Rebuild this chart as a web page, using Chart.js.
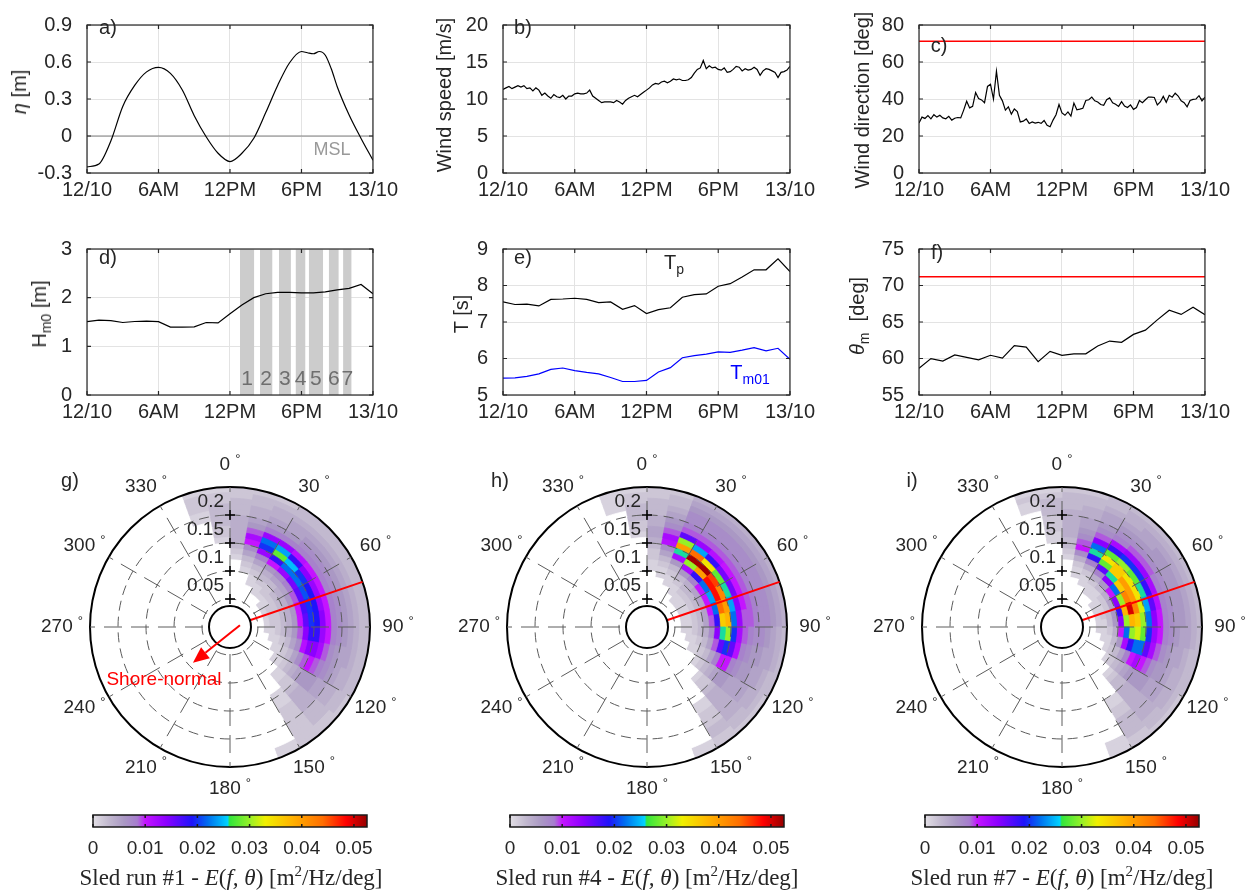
<!DOCTYPE html>
<html>
<head>
<meta charset="utf-8">
<script src="https://cdn.jsdelivr.net/npm/chart.js@4.4.1/dist/chart.umd.min.js"></script>
<style>
  body { margin: 0; background: #fff; }
  #fig { position: relative; width: 1254px; height: 895px; overflow: hidden;
         font-family: "Liberation Sans", Arial, sans-serif; color: #262626; }
  #plots canvas { position: absolute; }
  .t { position: absolute; white-space: nowrap; transform: translate(-50%, -50%); font-size: 20px; line-height: 1; }
  .yt { position: absolute; white-space: nowrap; transform: translate(-50%, -50%) rotate(-90deg); font-size: 20px; line-height: 1; }
  .cb { font-family: "Liberation Serif", "DejaVu Serif", serif; font-size: 23px; }
  sub { font-size: 70%; vertical-align: -0.35em; line-height: 0; }
  sup { font-size: 65%; vertical-align: 0.55em; line-height: 0; }
</style>
</head>
<body>
<div id="fig">
  <div id="plots"></div>

  <div class="t" style="left:108px;top:27px">a)</div>
  <div class="t" style="left:523px;top:27px">b)</div>
  <div class="t" style="left:939px;top:45px">c)</div>
  <div class="t" style="left:108px;top:257px">d)</div>
  <div class="t" style="left:523px;top:257px">e)</div>
  <div class="t" style="left:937px;top:252px">f)</div>
  <div class="t" style="left:70px;top:480px">g)</div>
  <div class="t" style="left:500px;top:480px">h)</div>
  <div class="t" style="left:912px;top:480px">i)</div>

  <div class="yt" style="left:19px;top:92px"><i>η</i> [m]</div>
  <div class="yt" style="left:444px;top:95px">Wind speed [m/s]</div>
  <div class="yt" style="left:862px;top:100px">Wind direction [deg]</div>
  <div class="yt" style="left:39px;top:314px">H<sub>m0</sub> [m]</div>
  <div class="yt" style="left:461px;top:314px">T [s]</div>
  <div class="yt" style="left:857px;top:316px"><i>θ</i><sub>m</sub> &nbsp;[deg]</div>

  <div class="t" style="left:332px;top:149px;font-size:18px;color:#999">MSL</div>
  <div class="t" style="left:674px;top:262px">T<sub>p</sub></div>
  <div class="t" style="left:750px;top:372px;color:#0000ff">T<sub>m01</sub></div>
  <div class="t" style="left:164px;top:678px;color:#ff0000;font-size:19px">Shore-normal</div>

  <div class="t cb" style="left:231px;top:877px">Sled run #1 - <i>E</i>(<i>f, θ</i>) [m<sup>2</sup>/Hz/deg]</div>
  <div class="t cb" style="left:647px;top:877px">Sled run #4 - <i>E</i>(<i>f, θ</i>) [m<sup>2</sup>/Hz/deg]</div>
  <div class="t cb" style="left:1062px;top:877px">Sled run #7 - <i>E</i>(<i>f, θ</i>) [m<sup>2</sup>/Hz/deg]</div>
</div>

<script>
// ---------- data ----------
const timeLabels = ['12/10', '6AM', '12PM', '6PM', '13/10'];

// a) water level
const tideHours = [0, 1, 2, 3, 4, 5, 6, 7, 8, 9, 10, 11, 12, 13, 14, 15, 16, 17, 18, 18.5, 19, 19.5, 20, 20.5, 21, 22, 23, 24];
const tideEta = [-0.25, -0.227, -0.04, 0.24, 0.41, 0.52, 0.557, 0.508, 0.373, 0.165, -0.006, -0.14, -0.207, -0.14, -0.018,
  0.19, 0.41, 0.594, 0.685, 0.675, 0.667, 0.685, 0.655, 0.545, 0.40, 0.17, -0.02, -0.197];
const mslLevel = 0;

// b) wind speed, c) wind direction (15 min samples)
const windStep = 0.25;
const windSpeed = [11.3, 11.5, 11.7, 11.4, 11.6, 11.8, 11.6, 11.8, 11.4, 11.5, 11.1, 11.5, 11.2, 10.5, 10.8, 10.4, 10.1, 10.6,
  10.3, 10.2, 10.5, 10.0, 10.4, 10.4, 10.7, 10.8, 10.7, 10.7, 10.8, 11.2, 10.4, 10.1, 9.8, 9.5, 9.6, 9.6, 9.6, 9.5, 9.8, 9.6,
  9.3, 9.8, 10.1, 10.3, 10.5, 10.3, 10.6, 10.9, 11.2, 11.5, 11.9, 12.1, 12.0, 12.3, 12.4, 12.2, 12.4, 12.7, 12.6, 12.7, 12.5,
  12.5, 12.6, 12.9, 13.5, 14.0, 14.2, 15.2, 14.1, 14.5, 14.2, 14.3, 14.0, 13.9, 14.2, 13.6, 13.7, 14.0, 14.4, 14.3, 13.8,
  14.1, 13.9, 14.0, 14.3, 14.0, 13.2, 13.8, 14.1, 14.0, 13.8, 13.6, 12.9, 13.6, 13.7, 13.9, 14.4];
const windDir = [27.0, 30.2, 29.5, 31.0, 29.3, 31.5, 30.2, 31.2, 29.8, 29.3, 30.6, 28.6, 29.6, 30.0, 29.8, 34.0, 38.8, 35.2,
  36.0, 43.5, 40.2, 39.5, 38.0, 46.8, 48.0, 40.0, 55.0, 42.0, 39.0, 34.0, 35.8, 31.8, 34.6, 33.2, 27.6, 28.0, 29.2, 26.8,
  27.6, 27.0, 27.4, 26.8, 28.4, 25.8, 25.0, 28.6, 31.5, 37.0, 32.5, 31.2, 33.0, 30.8, 37.8, 34.2, 34.5, 35.0, 39.2, 39.6,
  41.0, 39.0, 38.4, 37.0, 36.6, 39.6, 40.6, 38.0, 37.2, 36.0, 38.6, 36.2, 35.4, 36.8, 34.4, 35.4, 39.2, 38.0, 39.6, 41.0,
  41.0, 40.8, 36.8, 38.4, 41.4, 38.2, 42.0, 41.0, 43.2, 41.6, 39.0, 38.0, 35.8, 39.2, 39.8, 40.0, 41.8, 39.0, 41.0];
const shoreNormal = 71.2;

// d), e), f) hourly wave parameters
const waveHours = [0, 1, 2, 3, 4, 5, 6, 7, 8, 9, 10, 11, 12, 13, 14, 15, 16, 17, 18, 19, 20, 21, 22, 23, 24];
const hm0 = [1.506, 1.54, 1.53, 1.49, 1.51, 1.52, 1.506, 1.394, 1.394, 1.40, 1.49, 1.48, 1.668, 1.85, 2.0, 2.08, 2.11, 2.11,
  2.10, 2.10, 2.12, 2.16, 2.19, 2.27, 2.08];
const tPeak = [7.55, 7.48, 7.49, 7.44, 7.62, 7.63, 7.65, 7.62, 7.53, 7.55, 7.35, 7.45, 7.23, 7.34, 7.39, 7.68, 7.75, 7.77,
  7.98, 8.05, 8.23, 8.43, 8.43, 8.73, 8.38];
const tM01 = [5.46, 5.47, 5.51, 5.58, 5.70, 5.74, 5.67, 5.62, 5.58, 5.48, 5.37, 5.37, 5.40, 5.63, 5.75, 6.02, 6.08, 6.12,
  6.18, 6.17, 6.23, 6.30, 6.21, 6.28, 5.98];
const thetaM = [58.65, 59.98, 59.65, 60.48, 60.15, 59.81, 60.44, 60.06, 61.76, 61.56, 59.56, 60.98, 60.44, 60.64, 60.64,
  61.72, 62.39, 62.22, 63.30, 63.88, 65.29, 66.62, 66.04, 67.03, 66.0];

// sled runs (hours)
const runLabels = ['1', '2', '3', '4', '5', '6', '7'];
const runStart = [12.84, 14.51, 16.11, 17.50, 18.61, 20.29, 21.49];
const runEnd = [14.04, 15.57, 17.11, 18.34, 19.82, 21.13, 22.21];
const hm0Top = 3;

// directional spectra E(f,theta), units 1e-3 m^2/Hz/deg
// rows: direction bins starting at dirStart (10 deg wide), cols: frequency bins between freqEdges
const dirStart = [-20, -10, 0, 10, 20, 30, 40, 50, 60, 70, 80, 90, 100, 110, 120, 130, 140, 150];
const freqEdges = [0.06, 0.07, 0.08, 0.09, 0.10, 0.11, 0.12, 0.13, 0.14, 0.15, 0.16, 0.17, 0.18, 0.19, 0.20, 0.21, 0.22, 0.23, 0.24, 0.25];
const specRun1 = [
  [0, 0, 0, 0, 0, 0, 0, 0, 0, 0, 0, 0, 0, 1, 1, 2, 2, 2, 1],
  [0, 0, 0, 0, 0, 0, 0, 0, 0, 1, 2, 2, 3, 3, 3, 3, 2, 2, 1],
  [0, 0, 0, 0, 0, 0, 1, 2, 3, 4, 4, 4, 4, 4, 3, 3, 3, 2, 2],
  [0, 0, 0, 0, 1, 2, 3, 5, 7, 10, 12, 9, 6, 5, 4, 4, 3, 3, 2],
  [0, 0, 1, 1, 2, 3, 5, 8, 13, 20, 22, 13, 8, 6, 5, 4, 4, 3, 2],
  [0, 1, 1, 2, 3, 4, 6, 10, 18, 28, 24, 13, 8, 6, 5, 5, 4, 3, 3],
  [0, 1, 2, 2, 3, 5, 7, 13, 22, 25, 18, 11, 8, 7, 6, 5, 4, 3, 3],
  [1, 1, 2, 3, 4, 5, 8, 15, 22, 20, 14, 10, 8, 7, 6, 5, 4, 3, 3],
  [1, 2, 2, 3, 4, 6, 9, 16, 21, 19, 13, 10, 8, 7, 6, 5, 4, 3, 3],
  [1, 2, 2, 3, 4, 6, 10, 17, 20, 19, 13, 10, 8, 7, 6, 5, 4, 3, 3],
  [1, 2, 2, 3, 4, 6, 10, 16, 20, 19, 14, 10, 8, 7, 6, 5, 4, 3, 3],
  [1, 1, 2, 3, 4, 6, 9, 14, 18, 18, 13, 10, 8, 7, 6, 5, 4, 3, 3],
  [0, 1, 1, 2, 3, 5, 7, 11, 14, 14, 12, 9, 7, 6, 5, 5, 4, 3, 3],
  [0, 0, 1, 1, 2, 3, 5, 7, 9, 10, 9, 8, 7, 6, 5, 4, 4, 3, 3],
  [0, 0, 0, 1, 1, 2, 3, 4, 5, 6, 6, 6, 5, 5, 4, 4, 3, 3, 2],
  [0, 0, 0, 0, 0, 1, 1, 2, 2, 3, 4, 4, 4, 4, 3, 3, 3, 2, 2],
  [0, 0, 0, 0, 0, 0, 0, 0, 1, 1, 1, 2, 2, 2, 2, 2, 2, 2, 2],
  [0, 0, 0, 0, 0, 0, 0, 0, 0, 0, 0, 0, 0, 0, 0, 0, 0, 1, 1]
];
const specRun4 = [
  [0, 0, 0, 0, 0, 0, 0, 0, 0, 0, 0, 0, 0, 0, 0, 1, 1, 1, 1],
  [0, 0, 0, 0, 0, 0, 0, 0, 0, 0, 1, 2, 2, 3, 3, 3, 2, 2, 1],
  [0, 0, 0, 0, 1, 1, 2, 2, 3, 4, 5, 5, 4, 4, 3, 3, 3, 2, 2],
  [0, 0, 0, 1, 1, 2, 3, 5, 7, 11, 12, 9, 7, 6, 5, 4, 3, 3, 2],
  [0, 0, 1, 1, 2, 3, 6, 12, 26, 40, 30, 16, 9, 8, 7, 7, 6, 5, 4],
  [0, 1, 1, 2, 3, 6, 12, 30, 52, 44, 24, 13, 9, 8, 7, 7, 6, 5, 4],
  [1, 1, 2, 3, 4, 8, 18, 40, 52, 34, 18, 11, 9, 8, 7, 7, 6, 5, 4],
  [1, 1, 2, 3, 5, 10, 22, 48, 46, 28, 15, 10, 9, 8, 7, 7, 6, 5, 4],
  [1, 1, 2, 3, 5, 10, 24, 48, 42, 26, 15, 10, 9, 8, 7, 7, 6, 5, 4],
  [1, 1, 2, 3, 5, 10, 22, 44, 40, 24, 14, 10, 9, 8, 7, 7, 6, 5, 4],
  [1, 1, 2, 3, 5, 9, 18, 36, 38, 22, 13, 9, 9, 8, 7, 7, 6, 5, 4],
  [1, 1, 2, 3, 4, 7, 14, 26, 30, 20, 12, 9, 8, 7, 7, 6, 5, 4, 3],
  [0, 1, 1, 2, 3, 5, 9, 16, 20, 16, 11, 8, 7, 6, 6, 5, 5, 4, 3],
  [0, 0, 1, 1, 2, 3, 5, 8, 10, 10, 8, 7, 6, 6, 5, 5, 4, 3, 3],
  [0, 0, 0, 0, 1, 2, 3, 4, 5, 6, 6, 5, 5, 5, 5, 4, 4, 3, 2],
  [0, 0, 0, 0, 0, 0, 1, 2, 2, 3, 4, 4, 4, 4, 4, 4, 3, 3, 2],
  [0, 0, 0, 0, 0, 0, 0, 0, 0, 0, 1, 1, 2, 2, 2, 3, 3, 2, 2],
  [0, 0, 0, 0, 0, 0, 0, 0, 0, 0, 0, 0, 0, 0, 0, 0, 0, 1, 1]
];
const specRun7 = [
  [0, 0, 0, 0, 0, 0, 0, 0, 0, 0, 0, 0, 0, 0, 0, 1, 1, 2, 1],
  [0, 0, 0, 0, 0, 0, 0, 0, 0, 1, 1, 2, 2, 2, 3, 3, 3, 2, 1],
  [0, 0, 0, 0, 0, 0, 1, 2, 3, 3, 4, 4, 4, 4, 4, 3, 3, 3, 2],
  [0, 0, 0, 1, 1, 2, 4, 7, 10, 9, 7, 6, 5, 5, 4, 4, 3, 3, 2],
  [0, 0, 1, 1, 2, 4, 8, 18, 26, 22, 14, 9, 7, 6, 5, 5, 4, 3, 3],
  [0, 1, 1, 2, 4, 8, 16, 28, 34, 28, 18, 12, 8, 7, 6, 5, 4, 4, 3],
  [0, 1, 1, 3, 6, 14, 26, 36, 36, 30, 20, 13, 9, 7, 6, 5, 5, 4, 3],
  [1, 1, 2, 4, 10, 22, 36, 40, 34, 28, 20, 13, 9, 7, 6, 6, 5, 4, 3],
  [1, 1, 2, 5, 14, 30, 42, 40, 34, 26, 18, 12, 8, 7, 6, 6, 5, 4, 3],
  [1, 2, 3, 6, 18, 38, 50, 42, 32, 24, 16, 11, 8, 7, 6, 6, 5, 4, 3],
  [1, 1, 3, 6, 14, 30, 38, 36, 30, 22, 14, 10, 8, 7, 6, 6, 5, 4, 3],
  [1, 1, 2, 4, 10, 22, 30, 32, 28, 20, 13, 10, 8, 7, 6, 5, 5, 4, 3],
  [0, 1, 1, 3, 6, 12, 18, 22, 22, 16, 12, 9, 7, 6, 5, 5, 4, 3, 3],
  [0, 0, 1, 2, 3, 5, 8, 10, 12, 10, 9, 7, 6, 6, 5, 4, 4, 3, 3],
  [0, 0, 0, 1, 2, 3, 4, 5, 6, 6, 6, 6, 5, 5, 5, 4, 4, 3, 2],
  [0, 0, 0, 0, 0, 1, 2, 3, 3, 4, 4, 4, 4, 4, 4, 4, 3, 3, 2],
  [0, 0, 0, 0, 0, 0, 0, 0, 0, 1, 1, 2, 2, 3, 3, 3, 3, 2, 2],
  [0, 0, 0, 0, 0, 0, 0, 0, 0, 0, 0, 0, 0, 0, 0, 0, 1, 1, 1]
];
const rMax = 0.25;
const rTicks = [0.05, 0.1, 0.15, 0.2];
const innerCircle = 0.0375;
const angleTicks = [0, 30, 60, 90, 120, 150, 180, 210, 240, 270, 300, 330];
const cbMax = 0.0525;
// shore-normal arrow in g): tail (radius, bearing) and tip (radius, bearing)
const arrowTail = [0.018, 80];
const arrowTip = [0.092, 226];

// colormap (value in 1e-3 units -> rgb)
const cmapVals = [0, 3, 6, 8.5, 10, 14, 19, 22, 25.8, 26.2, 30, 33, 38, 44, 48.5, 52.5];
const cmapRGB = [[226, 223, 229], [194, 185, 207], [170, 152, 196], [166, 124, 206], [196, 20, 255], [140, 0, 255],
  [30, 20, 250], [0, 110, 240], [0, 210, 255], [50, 230, 60], [150, 240, 40], [240, 240, 0], [255, 180, 0],
  [255, 110, 0], [255, 0, 0], [150, 0, 0]];

// ---------- helpers ----------
const FONT = '"Liberation Sans", Arial, sans-serif';
Chart.defaults.font.family = FONT;
Chart.defaults.font.size = 20;
Chart.defaults.color = '#262626';

function rgb(c) { return 'rgb(' + c.join(',') + ')'; }
function cmap(v) {
  if (v <= cmapVals[0]) return rgb(cmapRGB[0]);
  for (let i = 1; i < cmapVals.length; i++) {
    if (v <= cmapVals[i]) {
      const f = (v - cmapVals[i - 1]) / (cmapVals[i] - cmapVals[i - 1]);
      const a = cmapRGB[i - 1], b = cmapRGB[i];
      return rgb(a.map((x, k) => Math.round(x + f * (b[k] - x))));
    }
  }
  return rgb(cmapRGB[cmapRGB.length - 1]);
}

function addCanvas(left, top, w, h) {
  const c = document.createElement('canvas');
  c.width = w; c.height = h;
  c.style.left = left + 'px'; c.style.top = top + 'px';
  document.getElementById('plots').appendChild(c);
  return c;
}

const frame = {
  id: 'frame',
  afterDraw(chart, args, opts) {
    const { ctx, chartArea: a } = chart;
    const tl = opts.tick;
    ctx.save();
    ctx.strokeStyle = opts.color;
    ctx.lineWidth = opts.width;
    ctx.strokeRect(a.left, a.top, a.right - a.left, a.bottom - a.top);
    ctx.beginPath();
    const sx = chart.scales.x;
    sx.ticks.forEach(t => {
      const p = sx.getPixelForValue(t.value);
      ctx.moveTo(p, a.bottom); ctx.lineTo(p, a.bottom - tl);
      ctx.moveTo(p, a.top); ctx.lineTo(p, a.top + tl);
    });
    const sy = chart.scales.y;
    if (sy && sy.options.display !== false) {
      sy.ticks.forEach(t => {
        const p = sy.getPixelForValue(t.value);
        ctx.moveTo(a.left, p); ctx.lineTo(a.left + tl, p);
        ctx.moveTo(a.right, p); ctx.lineTo(a.right - tl, p);
      });
    }
    ctx.stroke();
    ctx.restore();
  }
};

const runNumbers = {
  id: 'runNumbers',
  afterDatasetsDraw(chart) {
    const { ctx, chartArea: a } = chart;
    const sx = chart.scales.x;
    ctx.save();
    ctx.font = '21px ' + FONT;
    ctx.fillStyle = '#6e6e6e';
    ctx.textAlign = 'center';
    ctx.textBaseline = 'alphabetic';
    runLabels.forEach((lab, i) => {
      ctx.fillText(lab, sx.getPixelForValue((runStart[i] + runEnd[i]) / 2), a.bottom - 10);
    });
    ctx.restore();
  }
};

function pts(xs, ys) { return ys.map((y, i) => ({ x: xs[i], y })); }
function stepPts(step, ys) { return ys.map((y, i) => ({ x: i * step, y })); }
function hline(level, color, width) {
  return { data: [{ x: 0, y: level }, { x: 24, y: level }], borderColor: color, borderWidth: width, pointRadius: 0 };
}

function lineChart(box, y, datasets, extra) {
  const c = addCanvas(box.L - 80, box.T - 12, box.R - box.L + 110, box.B - box.T + 47);
  const grid = { color: '#e3e3e3', drawTicks: false };
  return new Chart(c, {
    type: 'line',
    data: { datasets },
    options: {
      responsive: false, animation: false, events: [],
      layout: { padding: { left: 0, top: 12, right: 30, bottom: 0 } },
      plugins: { legend: { display: false }, tooltip: { enabled: false },
        frame: { color: '#262626', width: 1.2, tick: 4 } },
      elements: { point: { radius: 0 }, line: { borderWidth: 1.2, tension: 0 } },
      scales: {
        x: { type: 'linear', min: 0, max: 24,
          ticks: { stepSize: 6, padding: 5, maxRotation: 0, autoSkip: false,
            callback: v => timeLabels[Math.round(v / 6)] },
          grid, border: { display: false }, afterFit: s => { s.height = 35; } },
        y: { type: 'linear', min: y.min, max: y.max,
          ticks: { stepSize: y.step, padding: 15, callback: v => String(+v.toFixed(2)) },
          grid, border: { display: false }, afterFit: s => { s.width = 80; } }
      }
    },
    plugins: [frame].concat(extra || [])
  });
}

// ---------- line panels ----------
const boxes = {
  a: { L: 87, R: 373, T: 10, B: 173 }, b: { L: 503, R: 790, T: 10, B: 173 }, c: { L: 919, R: 1205, T: 10, B: 173 },
  d: { L: 87, R: 373, T: 234, B: 395 }, e: { L: 503, R: 790, T: 234, B: 395 }, f: { L: 919, R: 1205, T: 234, B: 395 }
};

lineChart(boxes.a, { min: -0.3, max: 0.9, step: 0.3 }, [
  { data: pts(tideHours, tideEta), borderColor: '#000', cubicInterpolationMode: 'monotone' },
  hline(mslLevel, '#808080', 1)
]);
lineChart(boxes.b, { min: 0, max: 20, step: 5 }, [
  { data: stepPts(windStep, windSpeed), borderColor: '#000' }
]);
lineChart(boxes.c, { min: 0, max: 80, step: 20 }, [
  { data: stepPts(windStep, windDir), borderColor: '#000' },
  hline(shoreNormal, '#ff0000', 1.5)
]);
lineChart(boxes.d, { min: 0, max: 3, step: 1 }, [
  { data: pts(waveHours, hm0), borderColor: '#000' }
].concat(runStart.map((s, i) => ({
  data: [{ x: s, y: hm0Top }, { x: runEnd[i], y: hm0Top }],
  fill: 'origin', backgroundColor: '#cccccc', borderWidth: 0, pointRadius: 0
}))), [runNumbers]);
lineChart(boxes.e, { min: 5, max: 9, step: 1 }, [
  { data: pts(waveHours, tPeak), borderColor: '#000' },
  { data: pts(waveHours, tM01), borderColor: '#0000ff' }
]);
lineChart(boxes.f, { min: 55, max: 75, step: 5 }, [
  { data: pts(waveHours, thetaM), borderColor: '#000' },
  hline(shoreNormal, '#ff0000', 1.5)
]);

// ---------- polar spectra ----------
const isOuter = c => c.tick && c.tick.value >= rMax - 1e-9;

const polarDecor = {
  id: 'polarDecor',
  afterDraw(chart, args, opts) {
    const s = chart.scales.r, ctx = chart.ctx;
    const cx = s.xCenter, cy = s.yCenter;
    const R = s.getDistanceFromCenterForValue(rMax);
    const ri = s.getDistanceFromCenterForValue(innerCircle);
    const pos = (r, deg) => {
      const d = s.getDistanceFromCenterForValue(r), t = deg * Math.PI / 180;
      return { x: cx + d * Math.sin(t), y: cy - d * Math.cos(t) };
    };
    ctx.save();
    const p0 = pos(innerCircle, shoreNormal), p1 = pos(rMax, shoreNormal);
    ctx.strokeStyle = '#ff0000'; ctx.lineWidth = 2;
    ctx.beginPath(); ctx.moveTo(p0.x, p0.y); ctx.lineTo(p1.x, p1.y); ctx.stroke();

    ctx.beginPath(); ctx.arc(cx, cy, ri, 0, 2 * Math.PI);
    ctx.fillStyle = '#fff'; ctx.fill();
    ctx.lineWidth = 2; ctx.strokeStyle = '#000'; ctx.stroke();

    // radial ticks on the north axis
    ctx.lineWidth = 1.5;
    ctx.font = '19px ' + FONT; ctx.fillStyle = '#262626';
    ctx.textAlign = 'right'; ctx.textBaseline = 'middle';
    rTicks.forEach(v => {
      const d = s.getDistanceFromCenterForValue(v);
      ctx.beginPath();
      ctx.moveTo(cx - 5, cy - d); ctx.lineTo(cx + 5, cy - d);
      ctx.moveTo(cx, cy - d - 5); ctx.lineTo(cx, cy - d + 5);
      ctx.stroke();
      ctx.fillText(String(v), cx - 6, cy - d - 13);
    });

    // angle labels
    angleTicks.forEach(deg => {
      const t = deg * Math.PI / 180;
      const x = cx + (R + 28) * Math.sin(t), y = cy - (R + 22) * Math.cos(t);
      const num = String(deg);
      ctx.font = '19px ' + FONT; const w1 = ctx.measureText(num).width;
      ctx.font = '13px ' + FONT; const w2 = ctx.measureText('°').width;
      const x0 = x - (w1 + 5 + w2) / 2;
      ctx.textAlign = 'left';
      ctx.font = '19px ' + FONT; ctx.fillText(num, x0, y);
      ctx.font = '13px ' + FONT; ctx.fillText('°', x0 + w1 + 5, y - 6);
    });

    if (opts.arrow) {
      const a0 = pos(arrowTail[0], arrowTail[1]), a1 = pos(arrowTip[0], arrowTip[1]);
      const L = Math.hypot(a1.x - a0.x, a1.y - a0.y);
      const ux = (a1.x - a0.x) / L, uy = (a1.y - a0.y) / L;
      const hx = a1.x - 16 * ux, hy = a1.y - 16 * uy;
      ctx.strokeStyle = '#ff0000'; ctx.fillStyle = '#ff0000'; ctx.lineWidth = 2;
      ctx.beginPath(); ctx.moveTo(a0.x, a0.y); ctx.lineTo(hx, hy); ctx.stroke();
      ctx.beginPath();
      ctx.moveTo(a1.x, a1.y);
      ctx.lineTo(hx + 7 * uy, hy - 7 * ux);
      ctx.lineTo(hx - 7 * uy, hy + 7 * ux);
      ctx.closePath(); ctx.fill();
    }
    ctx.restore();
  }
};

function polarChart(center, spec, arrow) {
  const nSlices = 36;
  const labels = Array.from({ length: nSlices }, (_, i) => String(i * 10));
  const datasets = [{ data: Array(nSlices).fill(freqEdges[0]), backgroundColor: '#ffffff', borderColor: '#ffffff' }];
  for (let k = 0; k < freqEdges.length - 1; k++) {
    const colors = Array(nSlices).fill('#ffffff');
    dirStart.forEach((d, j) => {
      const v = spec[j][k];
      if (v > 0) colors[(((d % 360) + 360) % 360) / 10] = cmap(v);
    });
    datasets.push({ data: Array(nSlices).fill(freqEdges[k + 1]), backgroundColor: colors, borderColor: colors });
  }
  const c = addCanvas(center.x - 190, center.y - 190, 380, 380);
  return new Chart(c, {
    type: 'polarArea',
    data: { labels, datasets },
    options: {
      responsive: false, animation: false, events: [],
      layout: { padding: 50 },
      plugins: { legend: { display: false }, tooltip: { enabled: false }, polarDecor: { arrow } },
      elements: { arc: { borderWidth: 0.8 } },
      scales: {
        r: {
          min: 0, max: rMax, startAngle: 0,
          ticks: { display: false, stepSize: 0.05 },
          grid: { z: 1, circular: true,
            color: c => isOuter(c) ? '#000' : '#5c5c5c',
            lineWidth: c => isOuter(c) ? 2 : 1 },
          border: { dash: c => isOuter(c) ? [] : [10, 6] },
          angleLines: { display: true, lineWidth: 1, borderDash: [18, 9],
            color: c => c.index % 3 === 0 ? '#5c5c5c' : 'rgba(0,0,0,0)' },
          pointLabels: { display: false }
        }
      }
    },
    plugins: [polarDecor]
  });
}

const polarCenters = [{ x: 230, y: 627 }, { x: 647, y: 627 }, { x: 1062, y: 627 }];
polarChart(polarCenters[0], specRun1, true);
polarChart(polarCenters[1], specRun4, false);
polarChart(polarCenters[2], specRun7, false);

// ---------- colorbars ----------
function colorbar(cx) {
  const half = 137;
  const c = addCanvas(cx - half - 40, 805, 2 * half + 80, 60);
  return new Chart(c, {
    type: 'bar',
    data: { labels: [''], datasets: [{
      data: [cbMax], barPercentage: 1, categoryPercentage: 1, borderWidth: 0,
      backgroundColor: ctx => {
        const a = ctx.chart.chartArea;
        if (!a) return '#fff';
        const g = ctx.chart.ctx.createLinearGradient(a.left, 0, a.right, 0);
        cmapVals.forEach((v, i) => g.addColorStop(v / (cbMax * 1000), rgb(cmapRGB[i])));
        return g;
      }
    }] },
    options: {
      indexAxis: 'y', responsive: false, animation: false, events: [],
      layout: { padding: { left: 40, right: 40, top: 10, bottom: 0 } },
      plugins: { legend: { display: false }, tooltip: { enabled: false },
        frame: { color: '#1a1a1a', width: 1.5, tick: 3 } },
      scales: {
        x: { type: 'linear', min: 0, max: cbMax,
          ticks: { stepSize: 0.01, includeBounds: false, padding: 10, maxRotation: 0, font: { size: 19 },
            callback: v => String(+v.toFixed(2)) },
          grid: { display: false, drawTicks: false }, border: { display: false },
          afterFit: s => { s.height = 38; } },
        y: { display: false }
      }
    },
    plugins: [frame]
  });
}
polarCenters.forEach(p => colorbar(p.x));
</script>
</body>
</html>
